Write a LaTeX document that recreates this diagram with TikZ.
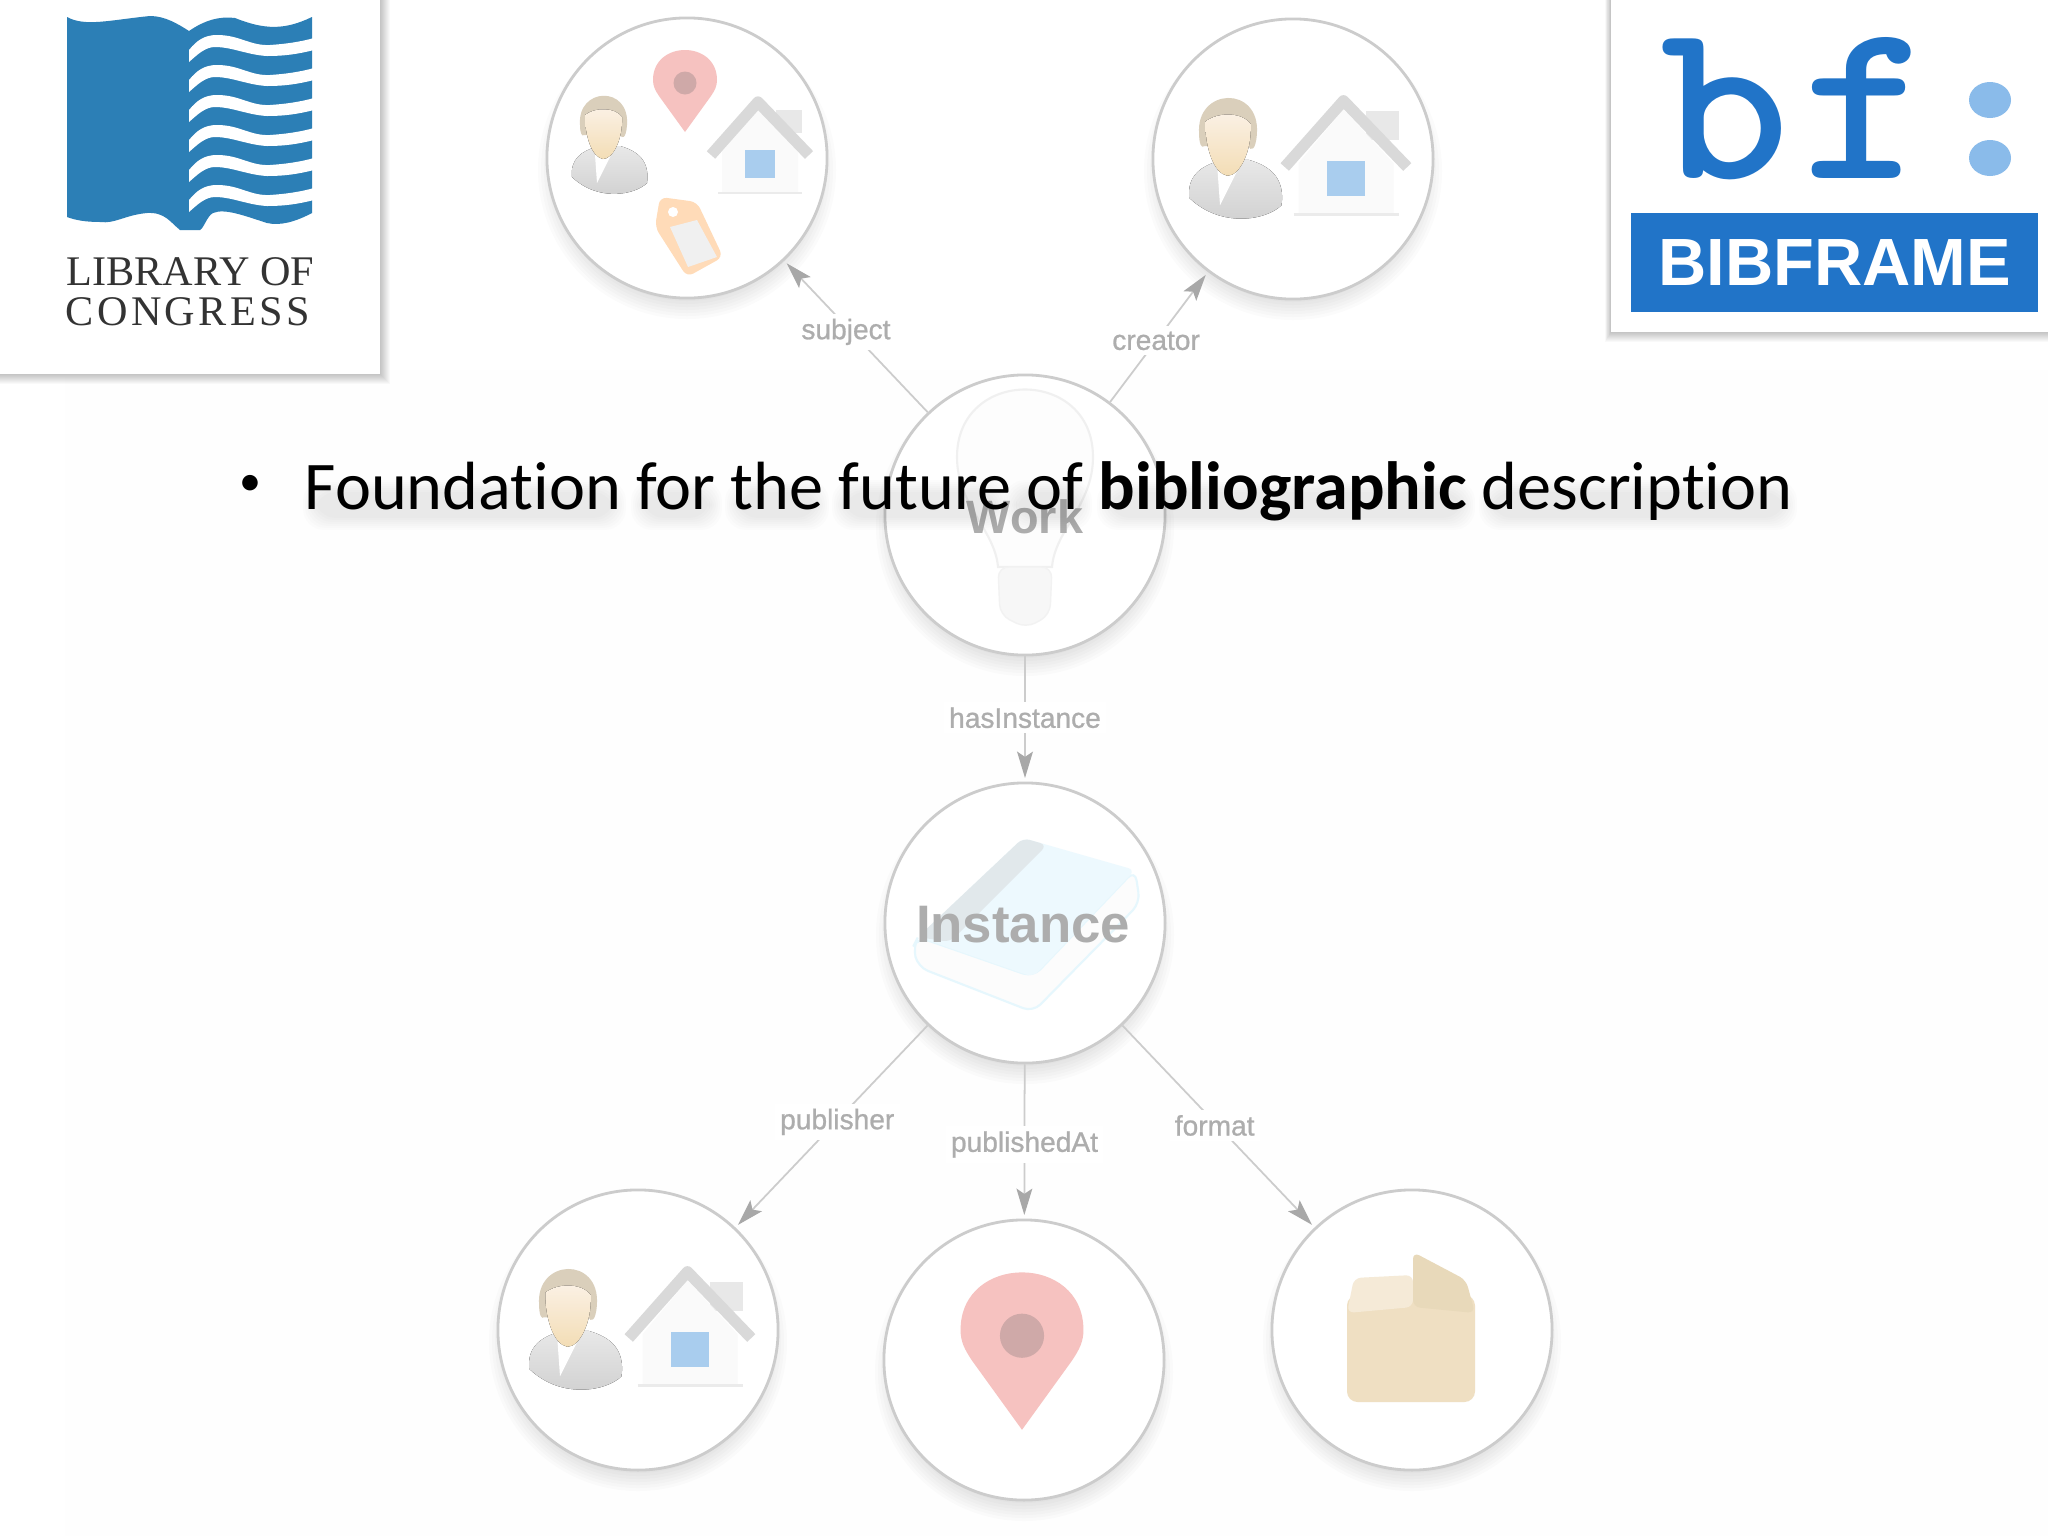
\documentclass[tikz,border=0pt]{standalone}
\usepackage{fontspec}
\setmainfont[Ligatures=CommonOff]{Carlito}
\newfontfamily\labelfont{Liberation Sans}
\newfontfamily\linkfont[FakeBold=0.9]{Liberation Sans}
\newfontfamily\logofont{Liberation Serif}
\usetikzlibrary{arrows.meta,backgrounds}
\colorlet{penColor}{black!20}
\colorlet{arrowColor}{black!34}
\colorlet{labelColor}{black!32}
\definecolor{locBlue}{HTML}{2C7FB6}
\definecolor{bfBlue}{HTML}{2174C8}
\definecolor{bfLight}{HTML}{8ABBEA}
\definecolor{pinRed}{HTML}{F6C2C0}
\definecolor{pinDot}{HTML}{CFA9A8}
\definecolor{boxTan}{HTML}{EFDFC2}
\definecolor{boxFlap}{HTML}{E8D9BA}
\definecolor{windowBlue}{HTML}{A9CDEE}
\definecolor{hairColor}{HTML}{DACFBB}
\definecolor{skinTop}{HTML}{FBF1E5}
\definecolor{skinBottom}{HTML}{F3DDB5}
\tikzset{>={Stealth[length=7.5pt,width=4.5pt,inset=1.5pt,arrowColor]}}
\tikzset{
  bubble/.style={circle,draw=penColor,line width=0.8pt,fill=white,minimum size=2.8cm,inner sep=0pt},
  link/.style={->,draw=penColor,line width=0.5pt,shorten >=1pt},
  linklabel/.style={fill=white,inner sep=1.5pt,text=labelColor,font=\linkfont\fontsize{8}{10}\selectfont},
  bubbletitle/.style={text=labelColor},
  personicon/.pic={
    \fill[top color=black!9,bottom color=black!19] (-38,30) .. controls (-40,12) and (-28,4) .. (-14,0) -- (10,-1) .. controls (28,4) and (40,14) .. (37,36) .. controls (25,48) and (-12,55) .. (-38,30) -- cycle;
    \fill[white] (-15,8) -- (2,6) -- (-13,36) -- cycle;
    \fill[hairColor] (-30,-22) .. controls (-33,-60) and (20,-62) .. (17,-22) .. controls (16,-8) and (12,-8) .. (10,-12) -- (-26,-12) .. controls (-28,-10) and (-30,-14) .. (-30,-22) -- cycle;
    \fill[top color=skinTop,bottom color=skinBottom] (-25,-32) .. controls (-15,-40) and (5,-40) .. (12,-30) .. controls (13,-8) and (3,12) .. (-7,12) .. controls (-18,10) and (-25,-10) .. (-25,-32) -- cycle;
  },
  houseicon/.pic={
    \fill[black!9] (16,-37) rectangle (42,-14);
    \fill[black!2] (-38,5) -- (-2,-38) -- (38,5) -- (38,45) -- (-38,45) -- cycle;
    \draw[black!15,line width=3.2pt,line join=round] (-49,8) -- (-2,-45) -- (49,8);
    \draw[black!8,line width=0.8pt] (-42,46) -- (42,46);
    \fill[windowBlue] (-15,3) rectangle (15,31);
  },
  pinicon/.pic={
    \fill[pinRed] (0,40) -- (-26,4) .. controls (-30,-2) and (-32,-6) .. (-32,-12) .. controls (-32,-32) and (-16,-42) .. (0,-42) .. controls (16,-42) and (32,-32) .. (32,-12) .. controls (32,-6) and (30,-2) .. (26,4) -- cycle;
    \fill[pinDot] (0,-9) circle (11.5);
  },
}
\newcommand{\bubbleshadow}[1]{
  \foreach \d in {125,128,...,150}
    \fill[black,opacity=.015] ([yshift=-0.12cm]#1.center) circle (\d);
}
\begin{document}
\begin{tikzpicture}[x=0.01cm,y=-0.01cm]
  \useasboundingbox (0,0) rectangle (2048,1536);

  % circles
  \node[bubble] (subject) at (687,158) {};
  \node[bubble] (creator) at (1293,159) {};
  \node[bubble] (work) at (1025,515) {};
  \node[bubble] (instance) at (1025,923) {};
  \node[bubble] (publisher) at (638,1330) {};
  \node[bubble] (publishedAt) at (1024,1360) {};
  \node[bubble] (format) at (1412,1330) {};

  \begin{scope}[on background layer]
    \fill[white] (0,0) rectangle (2048,1536);
    \fill[black,opacity=.004] (65,370) rectangle (2048,1536);
    \foreach \n in {subject,creator,work,instance,publisher,publishedAt,format}
      {\bubbleshadow{\n}}
  \end{scope}

  % connectors
  \draw[link] (work) -- node[linklabel,pos=.57,yshift=-0.06cm] {subject} (subject);
  \draw[link] (work) -- node[linklabel,pos=.47] {creator} (creator);
  \draw[link] (work) -- node[linklabel,pos=.49] {hasInstance} (instance);
  \draw[link] (instance) -- node[linklabel,pos=.47,yshift=-0.015cm] {publisher} (publisher);
  \draw[link] (instance) -- node[linklabel,pos=.51,yshift=-0.015cm] {publishedAt} (publishedAt);
  \draw[link] (instance) -- node[linklabel,pos=.48,yshift=-0.03cm] {format} (format);

  % subject icons
  \pic at (610,147) {personicon};
  \pic at (760,147) {houseicon};
  \pic at (685,92) {pinicon};
  \fill[orange!28!white,rounded corners=2pt] (660,197) -- (697,202) -- (723,257) -- (687,277) -- (655,227) -- cycle;
  \fill[black!6] (670,227) -- (697,220) -- (717,257) -- (688,267) -- cycle;
  \fill[white] (673,212) circle (5);

  % creator icons
  \pic[scale=1.23] at (1236,161) {personicon};
  \pic[scale=1.25] at (1346,157) {houseicon};

  % bulb
  \path[fill=cyan!3!black!1,draw=black!6,line width=0.6pt] (998,567) .. controls (995,530) and (957,505) .. (957,457) .. controls (957,367) and (1093,367) .. (1093,457) .. controls (1093,505) and (1055,530) .. (1052,567) -- cycle;
  \path[fill=black!3,draw=black!5,line width=0.4pt,rounded corners=3pt] (998,567) -- (1052,567) -- (1050,615) -- (1026,628) -- (1000,615) -- cycle;
  \node[bubbletitle,font=\labelfont\bfseries\fontsize{13.3}{15}\selectfont] (worktitle) at (1025,517) {Work};

  % book
  \path[fill=black!1,draw=cyan!10,line width=0.6pt,rounded corners=3pt] (913,947) -- (918,967) -- (1033,1012) -- (1140,903) -- (1135,870) -- (1033,977) -- (918,937) -- cycle;
  \fill[cyan!7,rounded corners=2pt] (1023,838) -- (1135,870) -- (1033,977) -- (918,937) -- cycle;
  \fill[cyan!35!black!13,rounded corners=2pt] (1023,838) -- (1047,845) -- (950,942) -- (918,937) -- cycle;
  \node[bubbletitle,font=\labelfont\bfseries\fontsize{15}{17}\selectfont] (instancetitle) at (1023,925) {Instance};

  % publisher icons
  \pic[scale=1.23] at (576,1332) {personicon};
  \pic[scale=1.25] at (690,1328) {houseicon};
  \pic[scale=1.92] at (1022,1353) {pinicon};

  % box
  \fill[boxTan,rounded corners=3pt] (1347,1295) -- (1475,1295) -- (1475,1402) -- (1347,1402) -- cycle;
  \fill[boxTan!65!white,rounded corners=2pt] (1354,1278) -- (1413,1275) -- (1413,1307) -- (1347,1313) -- cycle;
  \fill[boxFlap,rounded corners=2pt] (1413,1252) -- (1466,1280) -- (1475,1313) -- (1413,1307) -- cycle;

  % left card
  \foreach \d in {1,...,10}
    \fill[black,opacity=.022] (-10,-10) rectangle (380+\d,374+\d);
  \fill[white] (-10,-10) rectangle (380,374);
  \fill[locBlue] (67,17) .. controls (85,27) and (110,20) .. (150,16) .. controls (165,16) and (178,24) .. (189,31) .. controls (205,20) and (220,16) .. (235,18) .. controls (265,30) and (285,30) .. (312,17) -- (312,213) .. controls (295,222) and (280,226) .. (267,223) .. controls (245,216) and (225,208) .. (213,213) .. controls (207,216) and (204,228) .. (200,230) -- (180,230) .. controls (170,222) and (165,212) .. (147,213) .. controls (125,215) and (115,224) .. (100,222) .. controls (85,222) and (75,220) .. (67,217) -- cycle;
  \foreach \k in {0,...,5}
    \fill[white] (189,50+\k*30) .. controls (197,40+\k*30) and (205,35+\k*30) .. (217,35+\k*30) .. controls (240,35+\k*30) and (250,46+\k*30) .. (270,45+\k*30) .. controls (285,44+\k*30) and (300,42+\k*30) .. (314,38+\k*30) -- (314,50+\k*30) .. controls (298,54+\k*30) and (285,56+\k*30) .. (267,56+\k*30) .. controls (248,55+\k*30) and (232,47+\k*30) .. (215,47+\k*30) .. controls (205,47+\k*30) and (197,55+\k*30) .. (189,62+\k*30) -- cycle;
  \node[anchor=base west,inner sep=0pt,text=black!80,font=\logofont\fontsize{12}{13}\selectfont] (locone) at (66,285) {LIBRARY OF};
  \node[anchor=base west,inner sep=0pt,text=black!80,font=\logofont\fontsize{12}{13}\selectfont\addfontfeature{LetterSpace=8}] (loctwo) at (65,325) {CONGRESS};

  % right card
  \foreach \d in {1,...,10}
    \fill[black,opacity=.022] (1611-\d*.6,-10) rectangle (2060,332+\d);
  \fill[white] (1611,-10) rectangle (2060,332);
  \node[anchor=base west,inner sep=0pt,text=bfBlue,font=\ttfamily\bfseries\addfontfeatures{FakeBold=2}\fontsize{65}{67}\selectfont] (bfmark) at (1660,178) {\scalebox{1.08}[1]{b\kern3.2pt f}};
  \fill[bfLight] (1990,100) ellipse [x radius=21,y radius=18];
  \fill[bfLight] (1990,158) ellipse [x radius=21,y radius=18];
  \node[fill=bfBlue,text=white,font=\labelfont\bfseries\fontsize{19}{21}\selectfont,minimum width=4.07cm,minimum height=0.99cm,inner sep=0pt] (bfbar) at (1834.5,262.5) {\raisebox{-0.04cm}{BIBFRAME}};

  % slide text
  \foreach \a/\b in {307/615,635/711,729/818,836/997,1008/1081,1101/1464,1483/1786}
    \foreach \d in {0,...,6}
      \fill[black,opacity=.01,rounded corners=6pt] (\a+\d*2-4,480+\d*2) rectangle (\b+11-\d*2,530-\d*2);
  \node[inner sep=0pt,font=\fontsize{12.5}{14}\selectfont] (bullet) at (250,485) {•};
  \node[anchor=base west,inner sep=0pt,font=\fontsize{19.4}{24}\selectfont] (headline) at (304,509) {Foundation for the future of \textbf{bibliographic} description};
\end{tikzpicture}
\end{document}
